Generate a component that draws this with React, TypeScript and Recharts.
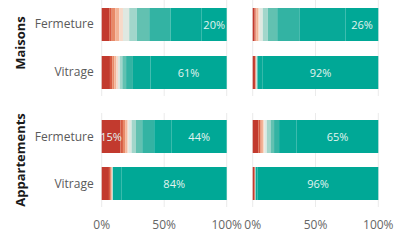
import React from 'react';
import { BarChart, Bar, XAxis, YAxis, CartesianGrid, LabelList } from 'recharts';

const categories = ['Fermeture', 'Vitrage'];
const levelKeys = ['n0', 'n1', 'n2', 'n3', 'n4', 'n5', 'n6', 'n7', 'n8', 'n9', 'n10'];
const levelColors = [
  '#c23a2e', '#d65a40', '#e88a68', '#f3b497', '#f7d9c8', '#dfe8e1',
  '#a2d6cb', '#62c1b1', '#33b3a3', '#07a998', '#00a896',
];
const xTicks = [0, 50, 100];

// share of each level (%), Fermeture then Vitrage
const maisonsGaucheFermeture = [6, 2, 3, 3, 3, 5, 6, 10, 17, 25, 20];
const maisonsGaucheVitrage = [6.6, 1.8, 1.6, 1.5, 1.5, 1.5, 2, 3, 5.5, 14, 61];
const maisonsDroiteFermeture = [1.5, 0.8, 0.7, 1.2, 1.3, 2.5, 4, 7.5, 18, 36.5, 26];
const maisonsDroiteVitrage = [1.8, 0.4, 0.3, 0.2, 0.2, 0.2, 0.2, 0.3, 0.4, 4, 92];
const appartGaucheFermeture = [15, 2, 2, 1.2, 1.2, 2.5, 3.5, 5, 9.6, 14, 44];
const appartGaucheVitrage = [5.8, 1.4, 0.6, 0.4, 0.3, 0.2, 0.1, 0.1, 0.1, 7, 84];
const appartDroiteFermeture = [4.5, 1.5, 1.2, 1, 1, 2, 3, 2.8, 4, 14, 65];
const appartDroiteVitrage = [1.5, 0.2, 0.1, 0.1, 0.1, 0.1, 0.1, 0.1, 0.1, 1.6, 96];

const font = '"Open Sans", sans-serif';

function toRows(series: number[][]) {
  return categories.map((cat, i) => {
    const row: any = { cat };
    levelKeys.forEach((k, j) => (row[k] = series[i][j]));
    return row;
  });
}

function BarLabel(props: any) {
  const { x, y, width, height, value } = props;
  if (value < 10) return null;
  return (
    <text
      x={x + width / 2}
      y={y + height / 2}
      textAnchor="middle"
      dominantBaseline="central"
      fill="#e2f4f0"
      fontSize={11}
      fontFamily={font}
    >
      {Math.round(value)}%
    </text>
  );
}

interface PanelProps {
  data: any[];
  width: number;
  height: number;
  left: number;
  top: number;
  margin: { top: number; right: number; left: number; bottom: number };
  showY: boolean;
  showX: boolean;
}

function Panel({ data, width, height, left, top, margin, showY, showX }: PanelProps) {
  return (
    <div style={{ position: 'absolute', left, top }}>
      <BarChart width={width} height={height} data={data} layout="vertical" margin={margin}>
        <CartesianGrid horizontal={false} stroke="#ebebeb" strokeWidth={1} />
        <XAxis
          type="number"
          domain={[0, 100]}
          ticks={xTicks}
          hide={!showX}
          height={30}
          axisLine={false}
          tickLine={false}
          tickSize={0}
          tickMargin={13}
          interval={0}
          tickFormatter={(v) => `${v}%`}
          tick={{ fontSize: 12, fill: '#666', fontFamily: font }}
        />
        <YAxis
          type="category"
          dataKey="cat"
          hide={!showY}
          width={101.7}
          axisLine={false}
          tickLine={false}
          tickSize={0}
          tickMargin={8}
          tick={{ fontSize: 12, fill: '#5a5a5a', fontFamily: font }}
        />
        {levelKeys.map((k, i) => (
          <Bar key={k} dataKey={k} stackId="a" fill={levelColors[i]} barSize={33} isAnimationActive={false}>
            {(i === 0 || i === levelKeys.length - 1) && <LabelList dataKey={k} content={BarLabel} />}
          </Bar>
        ))}
      </BarChart>
    </div>
  );
}

export default function App() {
  const leftMargin = { top: 0, right: 23.3, left: 0, bottom: 0 };
  const rightMargin = { top: 0, right: 21.7, left: 22.7, bottom: 0 };
  return (
    <div style={{ position: 'absolute', left: 0, top: 0, width: 400, height: 250, background: '#fff', fontFamily: font }}>
      <Panel data={toRows([maisonsGaucheFermeture, maisonsGaucheVitrage])} width={250} height={96} left={0} top={0} margin={leftMargin} showY showX={false} />
      <Panel data={toRows([maisonsDroiteFermeture, maisonsDroiteVitrage])} width={170} height={96} left={230} top={0} margin={rightMargin} showY={false} showX={false} />
      <Panel data={toRows([appartGaucheFermeture, appartGaucheVitrage])} width={250} height={124} left={0} top={113} margin={leftMargin} showY showX />
      <Panel data={toRows([appartDroiteFermeture, appartDroiteVitrage])} width={170} height={124} left={230} top={113} margin={rightMargin} showY={false} showX />
      <svg width={40} height={250} style={{ position: 'absolute', left: 0, top: 0 }}>
        <text x={20} y={43} transform="rotate(-90 20 43)" textAnchor="middle" dominantBaseline="central" fontSize={13} fontWeight={700} fill="#1a1a1a" fontFamily={font}>
          Maisons
        </text>
        <text x={20} y={160} transform="rotate(-90 20 160)" textAnchor="middle" dominantBaseline="central" fontSize={13} fontWeight={700} fill="#1a1a1a" fontFamily={font}>
          Appartements
        </text>
      </svg>
    </div>
  );
}
